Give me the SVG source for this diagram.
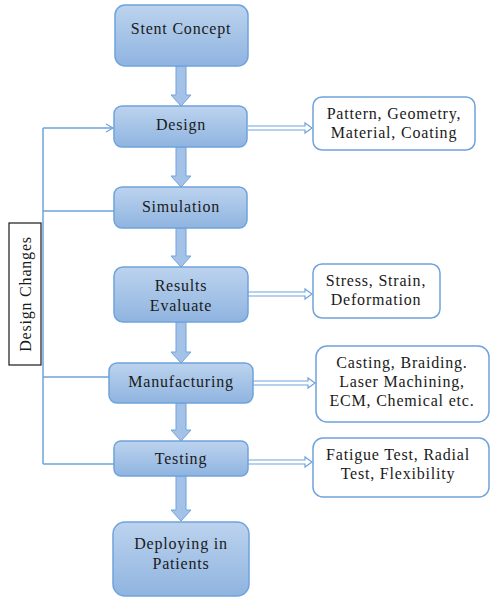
<svg xmlns="http://www.w3.org/2000/svg" width="490" height="598" viewBox="0 0 490 598">
<defs>
<linearGradient id="g" x1="0" y1="0" x2="0" y2="1">
<stop offset="0" stop-color="#bcd3ee"/>
<stop offset="1" stop-color="#8fb4e0"/>
</linearGradient>
<marker id="open" markerWidth="10" markerHeight="10" refX="8" refY="5" orient="auto" markerUnits="userSpaceOnUse">
<path d="M1,1 L8,5 L1,9" fill="none" stroke="#6fa3dc" stroke-width="1.2"/>
</marker>
</defs>
<style>
.box{fill:url(#g);stroke:#6fa3dc;stroke-width:1.5}
.side{fill:#fff;stroke:#6fa3dc;stroke-width:1.5}
.arr{fill:#a4c2e8;stroke:#6fa3dc;stroke-width:1}
.ln{fill:none;stroke:#6fa3dc;stroke-width:1.5}
.dbl{fill:#fff;stroke:#6fa3dc;stroke-width:1.2}
</style>
<g id="connectors">
<path class="arr" d="M176,66 H186 V95 H191 L181,106 L171,95 H176 Z"/>
<path class="arr" d="M176,147 H186 V176 H191 L181,187 L171,176 H176 Z"/>
<path class="arr" d="M176,228 H186 V256 H191 L181,267 L171,256 H176 Z"/>
<path class="arr" d="M176,322 H186 V352 H191 L181,363 L171,352 H176 Z"/>
<path class="arr" d="M176,403 H186 V430 H191 L181,441 L171,430 H176 Z"/>
<path class="arr" d="M176,476 H186 V510 H191 L181,521 L171,510 H176 Z"/>
<path class="dbl" d="M248,126 H305 V123 L312,128 L305,133 V130 H248"/>
<path class="dbl" d="M248,292 H305 V289 L312,294 L305,299 V296 H248"/>
<path class="dbl" d="M253,381 H308 V378 L315,383 L308,388 V385 H253"/>
<path class="dbl" d="M248,460 H305 V457 L312,462 L305,467 V464 H248"/>
<path class="ln" d="M43,128 V464"/>
<path class="ln" d="M43,128 H113" marker-end="url(#open)"/>
<path class="ln" d="M43,211 H114"/>
<path class="ln" d="M43,377 H109"/>
<path class="ln" d="M43,464 H114"/>
</g>
<g font-family="Liberation Serif" font-size="16" fill="#1a1a1a" text-anchor="middle" dominant-baseline="central" letter-spacing="0.8">
<g id="stent-concept"><rect class="box" x="115" y="5" width="133" height="61" rx="10"/><text x="181" y="28">Stent Concept</text></g>
<g id="design"><rect class="box" x="114" y="106" width="133" height="41" rx="8"/><text x="181" y="124">Design</text></g>
<g id="simulation"><rect class="box" x="114" y="187" width="133" height="41" rx="8"/><text x="181" y="206">Simulation</text></g>
<g id="results"><rect class="box" x="114" y="267" width="134" height="55" rx="9"/><text x="181" y="285">Results</text><text x="181" y="305">Evaluate</text></g>
<g id="manufacturing"><rect class="box" x="109" y="363" width="144" height="40" rx="8"/><text x="181" y="381">Manufacturing</text></g>
<g id="testing"><rect class="box" x="114" y="441" width="134" height="35" rx="7"/><text x="181" y="458">Testing</text></g>
<g id="deploying"><rect class="box" x="113" y="522" width="136" height="74" rx="12"/><text x="181" y="543">Deploying in</text><text x="181" y="563">Patients</text></g>
<g id="pattern"><rect class="side" x="313" y="97" width="162" height="53" rx="9"/><text x="394" y="113">Pattern, Geometry,</text><text x="394" y="132">Material, Coating</text></g>
<g id="stress"><rect class="side" x="313" y="264" width="127" height="54" rx="9"/><text x="376" y="280">Stress, Strain,</text><text x="376" y="299">Deformation</text></g>
<g id="casting"><rect class="side" x="316" y="346" width="173" height="76" rx="11"/><text x="402" y="362">Casting, Braiding.</text><text x="402" y="381">Laser Machining,</text><text x="402" y="400">ECM, Chemical etc.</text></g>
<g id="fatigue"><rect class="side" x="313" y="438" width="176" height="59" rx="10"/><text x="398" y="454">Fatigue Test, Radial</text><text x="398" y="473">Test, Flexibility</text></g>
<g id="design-changes"><rect x="9" y="223" width="32" height="142" fill="#fff" stroke="#1a1a1a" stroke-width="1.2"/><text transform="translate(25,294) rotate(-90)">Design Changes</text></g>
</g>
</svg>
